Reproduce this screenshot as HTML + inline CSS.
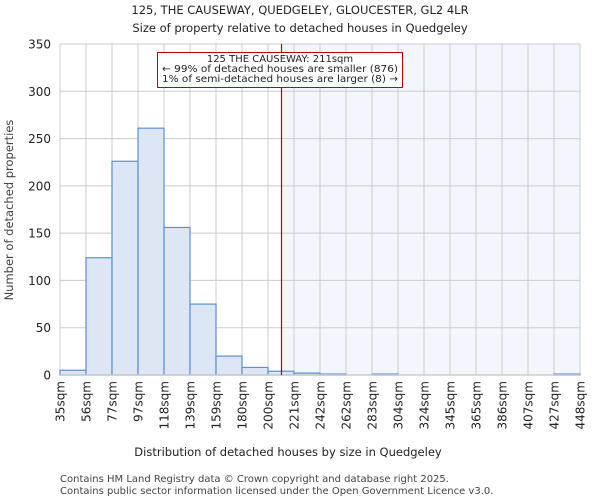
<!DOCTYPE html>
<html><head><meta charset="utf-8"><style>
body{margin:0;background:#fff;font-family:"DejaVu Sans","Liberation Sans",sans-serif;}
</style></head><body>
<svg width="600" height="500" xmlns="http://www.w3.org/2000/svg" font-family="DejaVu Sans, Liberation Sans, sans-serif">
<text x="300" y="14" text-anchor="middle" font-size="11.5" fill="#222">125, THE CAUSEWAY, QUEDGELEY, GLOUCESTER, GL2 4LR</text>
<text x="300" y="32" text-anchor="middle" font-size="11.5" fill="#222">Size of property relative to detached houses in Quedgeley</text>
<g id="plot"></g>
<text x="288" y="456" text-anchor="middle" font-size="11.5" fill="#222">Distribution of detached houses by size in Quedgeley</text>
<text transform="translate(13,210) rotate(-90)" text-anchor="middle" font-size="11.5" fill="#444">Number of detached properties</text>
<text x="60" y="482" font-size="10" fill="#444">Contains HM Land Registry data © Crown copyright and database right 2025.</text>
<text x="60" y="494" font-size="10" fill="#444">Contains public sector information licensed under the Open Government Licence v3.0.</text>
</svg>
<script>
const categories=["35sqm","56sqm","77sqm","97sqm","118sqm","139sqm","159sqm","180sqm","200sqm","221sqm","242sqm","262sqm","283sqm","304sqm","324sqm","345sqm","365sqm","386sqm","407sqm","427sqm","448sqm"];
const counts=[5,124,226,261,156,75,20,8,4,2,1,0,1,0,0,0,0,0,0,1];
const yTicks=[0,50,100,150,200,250,300,350];
const subjectBin=8.5;
const annotationLines=["125 THE CAUSEWAY: 211sqm","← 99% of detached houses are smaller (876)","1% of semi-detached houses are larger (8) →"];

const NS="http://www.w3.org/2000/svg";
const L=60,R=580,T=44,B=375,yMax=350;
const bw=(R-L)/counts.length;
const x=i=>L+i*bw;
const y=v=>B-(v/yMax)*(B-T);
const g=document.getElementById('plot');
function mk(tag,attrs){const e=document.createElementNS(NS,tag);for(const k in attrs)e.setAttribute(k,attrs[k]);g.appendChild(e);return e;}

const sx=x(subjectBin);
let e=mk('rect',{x:sx+1,y:T,width:R-sx-1,height:B-T,fill:'#f3f6fd'});


for(let i=0;i<=counts.length;i++){
  e=mk('line',{x1:x(i),x2:x(i),y1:T,y2:B,stroke:'#cccccc','stroke-width':1});
  
  
}
yTicks.forEach(t=>{
  e=mk('line',{x1:L,x2:R,y1:y(t),y2:y(t),stroke:'#cccccc','stroke-width':1});
  
  
  e=mk('text',{x:L-9,y:y(t)+4.5,'text-anchor':'end','font-size':'12',fill:'#222'});
  e.textContent=t;
  
  
});
counts.forEach((v,i)=>{
  if(v<=0)return;
  e=mk('rect',{x:x(i),y:y(v),width:bw,height:B-y(v),fill:'#dde6f4',stroke:'#5b8fd6','stroke-width':1.2});
  
  
});
e=mk('line',{x1:L,x2:R,y1:B,y2:B,stroke:'#cccccc','stroke-width':1.5});


categories.forEach((c,i)=>{
  e=mk('text',{transform:`translate(${x(i)+4.5},381) rotate(-90)`,'text-anchor':'end','font-size':'12',fill:'#222'});
  e.textContent=c;
  
  
});
e=mk('line',{x1:sx+0.5,x2:sx+0.5,y1:T,y2:B,stroke:'#c00000','stroke-width':1.2});


e=mk('rect',{x:157.5,y:52.5,width:245,height:35,fill:'#fff',stroke:'#c00000','stroke-width':1});


annotationLines.forEach((t,i)=>{
  e=mk('text',{x:280,y:62+i*10,'text-anchor':'middle','font-size':'10','textLength':i===0?'':'',fill:'#222'});
  if(i>0){e.setAttribute('textLength','236');e.setAttribute('lengthAdjust','spacingAndGlyphs');}
  e.textContent=t;
  
  
});
</script>
</body></html>
